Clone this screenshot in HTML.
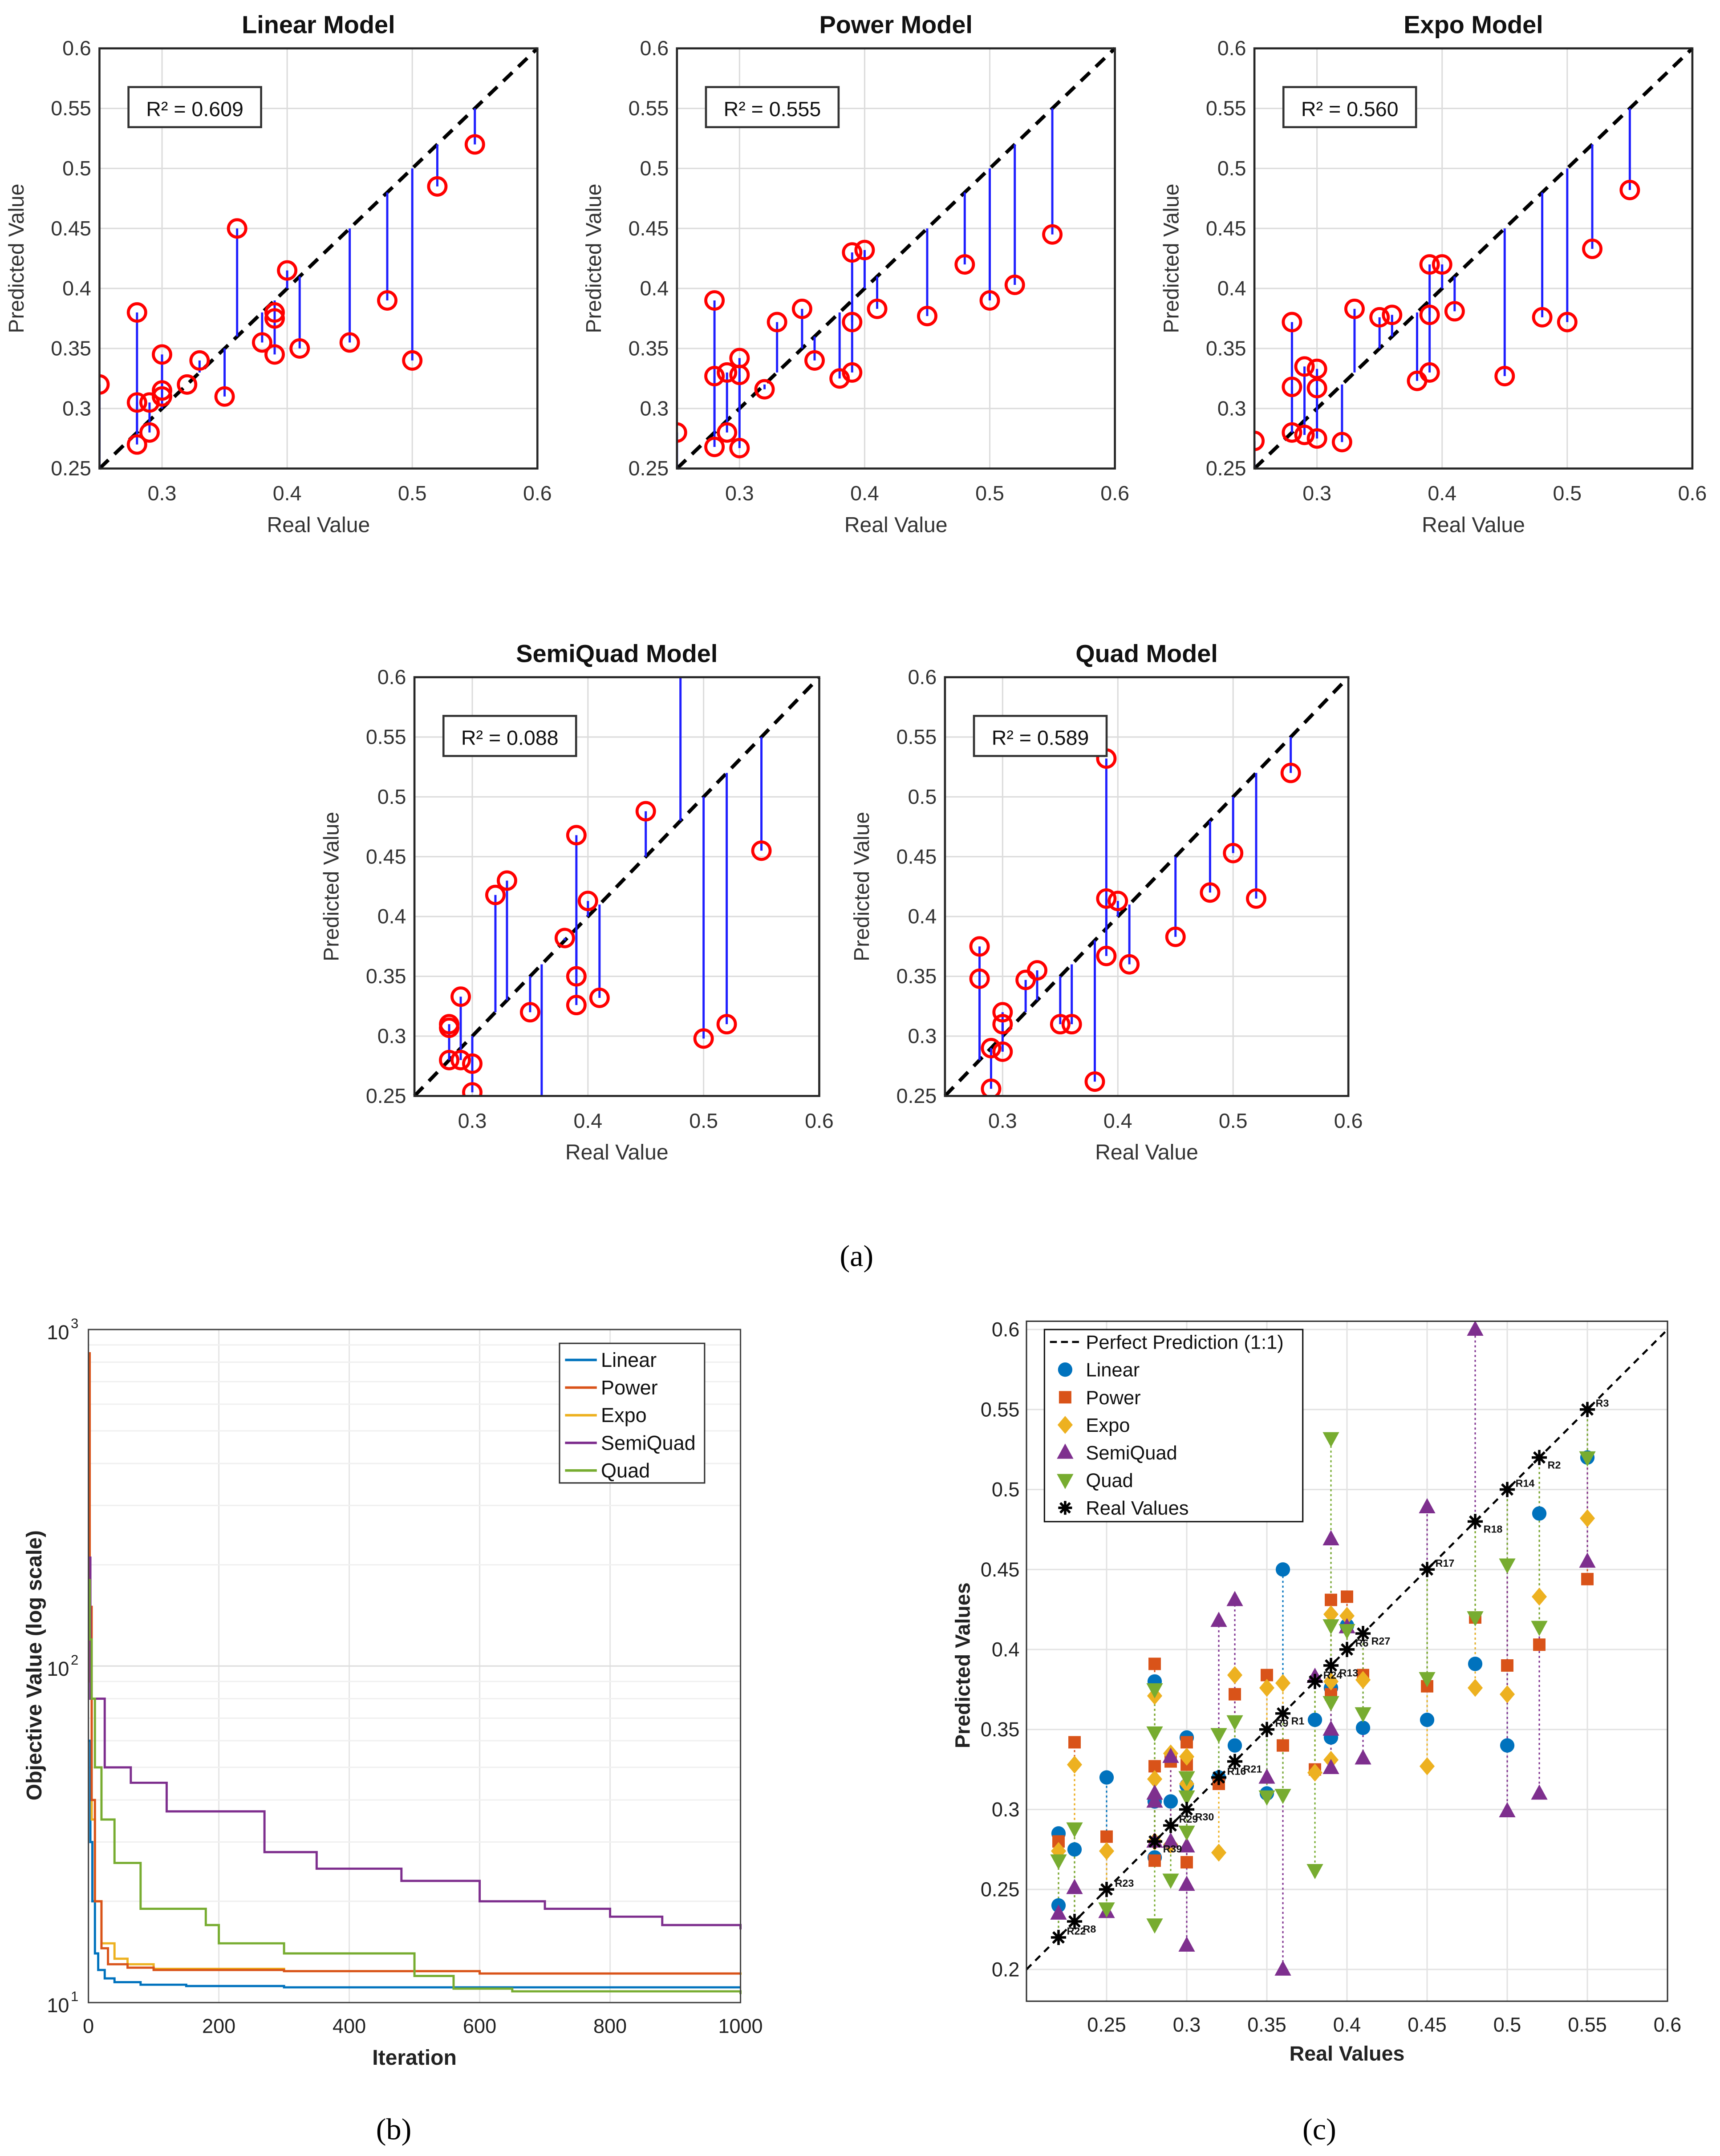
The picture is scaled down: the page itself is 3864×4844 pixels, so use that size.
<!DOCTYPE html>
<html><head><meta charset="utf-8"><style>
html,body{margin:0;padding:0;background:#fff;}
svg{display:block;font-family:"Liberation Sans",Arial,sans-serif;}
</style></head><body>
<svg id="fig" xmlns="http://www.w3.org/2000/svg" width="3864" height="4844" viewBox="0 0 1245 1560" preserveAspectRatio="none">
<rect x="0" y="0" width="1245" height="1560" fill="#fff"/>
</svg>
<script>
// ---------- Data: panel (a) ----------
const linReal = [0.25,0.28,0.28,0.28,0.29,0.29,0.30,0.30,0.30,0.32,0.33,0.35,0.36,0.38,0.39,0.39,0.39,0.40,0.41,0.45,0.48,0.50,0.52,0.55];
const linPred = [0.32,0.38,0.305,0.27,0.305,0.28,0.345,0.315,0.31,0.32,0.34,0.31,0.45,0.355,0.38,0.375,0.345,0.415,0.35,0.355,0.39,0.34,0.485,0.52];
const powReal = [0.25,0.28,0.28,0.28,0.29,0.29,0.30,0.30,0.30,0.32,0.33,0.35,0.36,0.38,0.39,0.39,0.39,0.40,0.41,0.45,0.48,0.50,0.52,0.55];
const powPred = [0.28,0.39,0.327,0.268,0.33,0.28,0.342,0.328,0.267,0.316,0.372,0.383,0.34,0.325,0.43,0.372,0.33,0.432,0.383,0.377,0.42,0.39,0.403,0.445];
const expReal = [0.25,0.28,0.28,0.28,0.29,0.29,0.30,0.30,0.30,0.32,0.33,0.35,0.36,0.38,0.39,0.39,0.39,0.40,0.41,0.45,0.48,0.50,0.52,0.55];
const expPred = [0.273,0.372,0.318,0.28,0.335,0.278,0.333,0.317,0.275,0.272,0.383,0.376,0.378,0.323,0.42,0.378,0.33,0.42,0.381,0.327,0.376,0.372,0.433,0.482];
const sqReal = [0.28,0.28,0.28,0.29,0.29,0.30,0.30,0.32,0.33,0.35,0.36,0.38,0.39,0.39,0.39,0.40,0.41,0.45,0.48,0.50,0.52,0.55];
const sqPred = [0.31,0.307,0.28,0.333,0.28,0.277,0.253,0.418,0.43,0.32,0.2,0.382,0.468,0.35,0.326,0.413,0.332,0.488,0.62,0.298,0.31,0.455];
const qReal = [0.28,0.28,0.29,0.29,0.30,0.30,0.30,0.32,0.33,0.35,0.36,0.38,0.39,0.39,0.39,0.40,0.41,0.45,0.48,0.50,0.52,0.55];
const qPred = [0.375,0.348,0.29,0.256,0.32,0.31,0.287,0.347,0.355,0.31,0.31,0.262,0.532,0.415,0.367,0.413,0.36,0.383,0.42,0.453,0.415,0.52];
const r2Labels = ["0.609","0.555","0.560","0.088","0.589"];
const aTicksY = [0.25,0.3,0.35,0.4,0.45,0.5,0.55,0.6];
const aTicksX = [0.3,0.4,0.5,0.6];

// ---------- Data: panel (b) ----------
const bIterTicks = [0,200,400,600,800,1000];
const bLinIter = [0,3,6,10,15,25,40,80,150,300,1000];
const bLinVal = [60,30,20,14,12.5,11.8,11.5,11.3,11.2,11.1,11.1];
const bPowIter = [0,2,5,10,20,30,60,100,300,600,1000];
const bPowVal = [850,150,40,20,14.5,13,12.7,12.5,12.4,12.2,12.2];
const bExpIter = [0,2,5,10,20,40,60,100,300,600,1000];
const bExpVal = [260,90,35,20,15,13.5,13,12.6,12.4,12.2,12.1];
const bSqIter = [0,3,20,25,60,65,120,270,350,480,600,700,800,880,1000];
const bSqVal = [210,80,80,50,50,45,37,28,25,23,20,19,18,17,16.5];
const bQuIter = [0,2,5,10,20,40,80,180,200,300,500,560,650,1000];
const bQuVal = [180,120,80,50,35,26,19,17,15,14,12,11,10.8,10.6];

// ---------- Data: panel (c) ----------
const cRealX = [0.22,0.23,0.25,0.28,0.29,0.30,0.32,0.33,0.35,0.36,0.38,0.39,0.40,0.41,0.45,0.48,0.50,0.52,0.55];
const cRealLabels = ["R22","R8","R23","R39","R29","R30","R16","R21","R9","R1","R24","R13","R6","R27","R17","R18","R14","R2","R3"];
const cLinX = [0.22,0.22,0.23,0.25,0.28,0.28,0.28,0.29,0.30,0.30,0.32,0.33,0.35,0.36,0.38,0.39,0.39,0.40,0.41,0.45,0.48,0.50,0.52,0.55];
const cLinY = [0.285,0.24,0.275,0.32,0.38,0.305,0.27,0.305,0.345,0.315,0.32,0.34,0.31,0.45,0.356,0.376,0.345,0.415,0.351,0.356,0.391,0.34,0.485,0.52];
const cPowX = [0.22,0.23,0.25,0.28,0.28,0.28,0.29,0.30,0.30,0.30,0.32,0.33,0.35,0.36,0.38,0.39,0.39,0.40,0.41,0.45,0.48,0.50,0.52,0.55];
const cPowY = [0.28,0.342,0.283,0.391,0.327,0.268,0.33,0.342,0.328,0.267,0.316,0.372,0.384,0.34,0.325,0.431,0.372,0.433,0.384,0.377,0.42,0.39,0.403,0.444];
const cExpX = [0.22,0.23,0.25,0.28,0.28,0.28,0.29,0.29,0.30,0.30,0.32,0.33,0.35,0.36,0.38,0.39,0.39,0.39,0.40,0.41,0.45,0.48,0.50,0.52,0.55];
const cExpY = [0.274,0.328,0.274,0.371,0.319,0.28,0.335,0.278,0.333,0.316,0.273,0.384,0.376,0.379,0.323,0.422,0.38,0.331,0.421,0.381,0.327,0.376,0.372,0.433,0.482];
const cSqX = [0.22,0.23,0.25,0.28,0.28,0.28,0.29,0.29,0.30,0.30,0.30,0.32,0.33,0.35,0.36,0.38,0.39,0.39,0.39,0.40,0.41,0.45,0.48,0.50,0.52,0.55];
const cSqY = [0.235,0.251,0.236,0.31,0.305,0.28,0.333,0.28,0.277,0.253,0.215,0.418,0.431,0.32,0.2,0.383,0.469,0.35,0.326,0.414,0.332,0.489,0.6,0.299,0.31,0.455];
const cQuX = [0.22,0.23,0.25,0.28,0.28,0.28,0.29,0.30,0.30,0.30,0.32,0.33,0.35,0.36,0.38,0.39,0.39,0.39,0.40,0.41,0.45,0.48,0.50,0.52,0.55];
const cQuY = [0.268,0.288,0.238,0.375,0.348,0.228,0.256,0.32,0.308,0.286,0.347,0.355,0.308,0.309,0.262,0.532,0.415,0.367,0.412,0.36,0.382,0.42,0.453,0.414,0.52];
const cTicks = [0.2,0.25,0.3,0.35,0.4,0.45,0.5,0.55,0.6];

const NS = "http://www.w3.org/2000/svg";
const svg = document.getElementById('fig');
function mk(tag, attrs, parent){
  const e = document.createElementNS(NS, tag);
  for (const k in attrs) e.setAttribute(k, attrs[k]);
  (parent || svg).appendChild(e);
  return e;
}
function txt(s, attrs, parent){ const t = mk('text', attrs, parent); t.textContent = s; return t; }

// ---------- Panel (a) ----------
function stemPanel(title, real, pred, r2, x0, x1, y0, y1, idx){
  const g = mk('g', {});
  
  
  const sx = v => x0 + (v - 0.25) / 0.35 * (x1 - x0);
  const sy = v => y1 - (v - 0.25) / 0.35 * (y1 - y0);
  const cp = 'clipa' + idx;
  const cl = mk('clipPath', {id: cp}, g); mk('rect', {x:x0, y:y0, width:x1-x0, height:y1-y0}, cl);
  aTicksY.forEach(v => {
    if (v > 0.25 && v < 0.6) mk('line', {x1:x0, x2:x1, y1:sy(v), y2:sy(v), stroke:'#dcdcdc', 'stroke-width':1}, g);
    const t = txt(String(v), {x:x0-6, y:sy(v)+5, 'text-anchor':'end', 'font-size':15, fill:'#333'}, g);
    
    
  });
  aTicksX.forEach(v => {
    if (v < 0.6) mk('line', {x1:sx(v), x2:sx(v), y1:y0, y2:y1, stroke:'#dcdcdc', 'stroke-width':1}, g);
    const t = txt(String(v), {x:sx(v), y:y1+23, 'text-anchor':'middle', 'font-size':15, fill:'#333'}, g);
    
    
  });
  const dg = mk('line', {x1:sx(0.25), y1:sy(0.25), x2:sx(0.6), y2:sy(0.6), stroke:'#000', 'stroke-width':2.6, 'stroke-dasharray':'9,6'}, g);
  
  
  const pg = mk('g', {'clip-path':'url(#'+cp+')'}, g);
  real.forEach((r, i) => {
    const st = mk('line', {x1:sx(r), x2:sx(r), y1:sy(r), y2:sy(pred[i]), stroke:'#1f1fff', 'stroke-width':1.6}, pg);
    
    
  });
  real.forEach((r, i) => {
    const c = mk('circle', {cx:sx(r), cy:sy(pred[i]), r:6.3, fill:'none', stroke:'#ff0000', 'stroke-width':2.2}, pg);
    
    
  });
  mk('rect', {x:x0, y:y0, width:x1-x0, height:y1-y0, fill:'none', stroke:'#262626', 'stroke-width':1.5}, g);
  const bx = mk('rect', {x:x0+21, y:y0+28, width:96, height:29, fill:'#fff', stroke:'#333', 'stroke-width':1.5}, g);
  
  
  const rt = txt('R² = ' + r2, {x:x0+69, y:y0+49, 'text-anchor':'middle', 'font-size':15, fill:'#111'}, g);
  
  
  const tt = txt(title, {x:(x0+x1)/2, y:y0-11, 'text-anchor':'middle', 'font-size':18, 'font-weight':'bold', fill:'#111'}, g);
  
  
  const xl = txt('Real Value', {x:(x0+x1)/2, y:y1+46, 'text-anchor':'middle', 'font-size':15.5, fill:'#333'}, g);
  
  
  const yc = (y0+y1)/2;
  const yl = txt('Predicted Value', {x:x0-55, y:yc, 'text-anchor':'middle', 'font-size':15.5, fill:'#333', transform:'rotate(-90 '+(x0-55)+' '+yc+')'}, g);
  
  
}
stemPanel('Linear Model', linReal, linPred, r2Labels[0], 72, 389, 35, 339, 0);
stemPanel('Power Model', powReal, powPred, r2Labels[1], 490, 807, 35, 339, 1);
stemPanel('Expo Model', expReal, expPred, r2Labels[2], 908, 1225, 35, 339, 2);
stemPanel('SemiQuad Model', sqReal, sqPred, r2Labels[3], 300, 593, 490, 793, 3);
stemPanel('Quad Model', qReal, qPred, r2Labels[4], 684, 976, 490, 793, 4);

const la = txt('(a)', {x:620, y:916, 'text-anchor':'middle', 'font-size':22, 'font-family':'Liberation Serif, serif', fill:'#000'});



// ---------- Panel (b) ----------
(function(){
  const x0=64, x1=536, y0=962, y1=1449;
  const g = mk('g', {});
  
  
  const sx = v => x0 + v/1000*(x1-x0);
  const sy = v => y1 - (Math.log10(v)-1)/2*(y1-y0);
  bIterTicks.forEach(v => {
    if (v>0 && v<1000) mk('line', {x1:sx(v), x2:sx(v), y1:y0, y2:y1, stroke:'#e6e6e6', 'stroke-width':1}, g);
    const t = txt(String(v), {x:sx(v), y:y1+22, 'text-anchor':'middle', 'font-size':14.5, fill:'#222'}, g);
    
    
  });
  for (let d=1; d<3; d++) for (let m=1; m<10; m++){
    const v = m*Math.pow(10,d);
    if (v>10 && v<1000) mk('line', {x1:x0, x2:x1, y1:sy(v), y2:sy(v), stroke: m===1?'#dedede':'#f0f0f0', 'stroke-width':1}, g);
  }
  [['10','1',10],['10','2',100],['10','3',1000]].forEach(a => {
    const t = txt(a[0], {x:x0-22, y:sy(a[2])+7, 'text-anchor':'middle', 'font-size':14.5, fill:'#222'}, g);
    
    
    txt(a[1], {x:x0-10, y:sy(a[2])-1, 'text-anchor':'middle', 'font-size':10, fill:'#222'}, g);
  });
  function series(name, it, val, col){
    let d = '';
    it.forEach((x,i) => {
      if (i===0) d += 'M'+sx(x)+' '+sy(val[i]);
      else d += ' H'+sx(x)+' V'+sy(val[i]);
    });
    const p = mk('path', {d:d, fill:'none', stroke:col, 'stroke-width':1.6}, g);
    
    
  }
  series('linear', bLinIter, bLinVal, '#0072BD');
  series('expo', bExpIter, bExpVal, '#EDB120');
  series('power', bPowIter, bPowVal, '#D95319');
  series('semiquad', bSqIter, bSqVal, '#7E2F8E');
  series('quad', bQuIter, bQuVal, '#77AC30');
  mk('rect', {x:x0, y:y0, width:x1-x0, height:y1-y0, fill:'none', stroke:'#444', 'stroke-width':1}, g);
  const lg = mk('g', {}, g);
  
  
  mk('rect', {x:405, y:972, width:105, height:101, fill:'#fff', stroke:'#333', 'stroke-width':1}, lg);
  [['Linear','#0072BD'],['Power','#D95319'],['Expo','#EDB120'],['SemiQuad','#7E2F8E'],['Quad','#77AC30']].forEach((a,i) => {
    const yy = 984 + i*20;
    mk('line', {x1:409, x2:432, y1:yy, y2:yy, stroke:a[1], 'stroke-width':1.8}, lg);
    const t = txt(a[0], {x:435, y:yy+5, 'font-size':14.5, fill:'#111'}, lg);
    
    
  });
  const xl = txt('Iteration', {x:300, y:1494, 'text-anchor':'middle', 'font-size':15.5, 'font-weight':'bold', fill:'#222'}, g);
  
  
  const yl = txt('Objective Value (log scale)', {x:30, y:1205, 'text-anchor':'middle', 'font-size':15.5, 'font-weight':'bold', fill:'#222', transform:'rotate(-90 30 1205)'}, g);
  
  
})();
const lb = txt('(b)', {x:285, y:1548, 'text-anchor':'middle', 'font-size':22, 'font-family':'Liberation Serif, serif', fill:'#000'});



// ---------- Panel (c) ----------
(function(){
  const x0=743, x1=1207, yTop=956, y1=1448;
  const g = mk('g', {});
  
  
  const sx = v => x0 + (v-0.2)/0.4*(x1-x0);
  const sy = v => 1425 - (v-0.2)/0.4*(1425-962);
  cTicks.forEach(v => {
    if (v>0.2 && v<0.6) mk('line', {x1:sx(v), x2:sx(v), y1:yTop, y2:y1, stroke:'#e3e3e3', 'stroke-width':1}, g);
    mk('line', {x1:x0, x2:x1, y1:sy(v), y2:sy(v), stroke:'#e3e3e3', 'stroke-width':1}, g);
    if (v>0.2){
      const t = txt(String(v), {x:sx(v), y:y1+22, 'text-anchor':'middle', 'font-size':14.5, fill:'#222'}, g);
      
      
    }
    const t2 = txt(String(v), {x:x0-5, y:sy(v)+5, 'text-anchor':'end', 'font-size':14.5, fill:'#222'}, g);
    
    
  });
  const dl = mk('line', {x1:sx(0.2), y1:sy(0.2), x2:sx(0.6), y2:sy(0.6), stroke:'#000', 'stroke-width':1.5, 'stroke-dasharray':'5,4'}, g);
  
  
  const models = [
    ['linear', cLinX, cLinY, '#0072BD', 'circle'],
    ['power', cPowX, cPowY, '#D95319', 'square'],
    ['expo', cExpX, cExpY, '#EDB120', 'diamond'],
    ['semiquad', cSqX, cSqY, '#7E2F8E', 'up'],
    ['quad', cQuX, cQuY, '#77AC30', 'down']
  ];
  function marker(shape, cx, cy, col, parent){
    let e;
    if (shape==='circle') e = mk('circle', {cx:cx, cy:cy, r:5.2, fill:col}, parent);
    else if (shape==='square') e = mk('rect', {x:cx-4.5, y:cy-4.5, width:9, height:9, fill:col}, parent);
    else if (shape==='diamond') e = mk('polygon', {points:[cx,cy-6.5,cx+5.5,cy,cx,cy+6.5,cx-5.5,cy].join(','), fill:col}, parent);
    else if (shape==='up') e = mk('polygon', {points:[cx,cy-6.5,cx+6,cy+4.5,cx-6,cy+4.5].join(','), fill:col}, parent);
    else e = mk('polygon', {points:[cx,cy+6.5,cx+6,cy-4.5,cx-6,cy-4.5].join(','), fill:col}, parent);
    return e;
  }
  models.forEach(m => {
    m[1].forEach((x,i) => {
      const l = mk('line', {x1:sx(x), x2:sx(x), y1:sy(x), y2:Math.min(y1, sy(m[2][i])), stroke:m[3], 'stroke-width':1, 'stroke-dasharray':'1.5,2'}, g);
      
      
    });
  });
  models.forEach(m => {
    m[1].forEach((x,i) => {
      const e = marker(m[4], sx(x), sy(m[2][i]), m[3], g);
      
      
    });
  });
  function star(cx, cy, parent, s){
    const sg = mk('g', {stroke:'#000', 'stroke-width':1.8}, parent);
    for (let a=0; a<4; a++){
      const ang = a*Math.PI/4;
      mk('line', {x1:cx-s*Math.cos(ang), y1:cy-s*Math.sin(ang), x2:cx+s*Math.cos(ang), y2:cy+s*Math.sin(ang)}, sg);
    }
    return sg;
  }
  cRealX.forEach((x,i) => {
    const s = star(sx(x), sy(x), g, 5.5);
    
    
    const t = txt(cRealLabels[i], {x:sx(x)+6, y:sy(x)+(i%2?8:-2), 'font-size':7.5, 'font-weight':'bold', fill:'#111'}, g);
    
    
  });
  mk('rect', {x:x0, y:yTop, width:x1-x0, height:y1-yTop, fill:'none', stroke:'#333', 'stroke-width':1}, g);
  const lg = mk('g', {}, g);
  
  
  mk('rect', {x:756, y:962, width:187, height:139, fill:'#fff', stroke:'#111', 'stroke-width':1}, lg);
  mk('line', {x1:760, x2:784, y1:971, y2:971, stroke:'#000', 'stroke-width':1.5, 'stroke-dasharray':'5,3'}, lg);
  const t0 = txt('Perfect Prediction (1:1)', {x:786, y:976, 'font-size':14, fill:'#111'}, lg);
  
  
  const names = ['Linear','Power','Expo','SemiQuad','Quad'];
  models.forEach((m,i) => {
    const yy = 991 + i*20;
    marker(m[4], 771, yy, m[3], lg);
    const t = txt(names[i], {x:786, y:yy+5, 'font-size':14, fill:'#111'}, lg);
    
    
  });
  star(771, 1091, lg, 5);
  const tr = txt('Real Values', {x:786, y:1096, 'font-size':14, fill:'#111'}, lg);
  
  
  const xl = txt('Real Values', {x:975, y:1491, 'text-anchor':'middle', 'font-size':15, 'font-weight':'bold', fill:'#222'}, g);
  
  
  const yl = txt('Predicted Values', {x:702, y:1205, 'text-anchor':'middle', 'font-size':15, 'font-weight':'bold', fill:'#222', transform:'rotate(-90 702 1205)'}, g);
  
  
})();
const lc = txt('(c)', {x:955, y:1548, 'text-anchor':'middle', 'font-size':22, 'font-family':'Liberation Serif, serif', fill:'#000'});


</script>
</body></html>
